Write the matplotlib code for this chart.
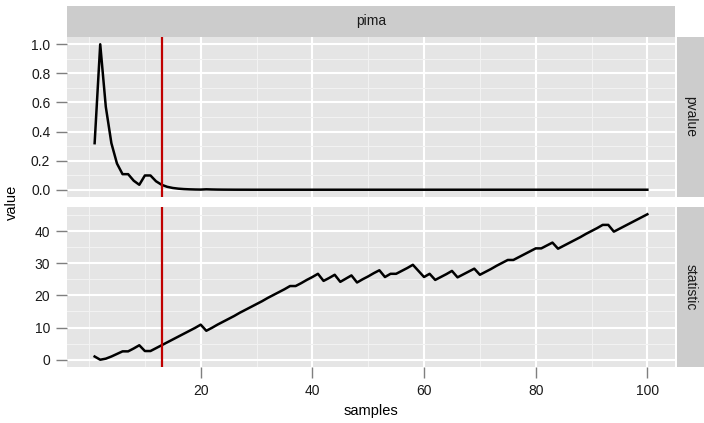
import matplotlib
matplotlib.use("Agg")
import matplotlib.pyplot as plt
from matplotlib.ticker import MultipleLocator

plt.rcParams['font.family'] = ['Liberation Sans', 'DejaVu Sans']

samples = list(range(1, 101))

pvalue = [0.32, 1.00, 0.57, 0.32, 0.18, 0.107, 0.107, 0.062, 0.034, 0.098,
          0.098, 0.058, 0.034, 0.020, 0.012, 0.0073, 0.0044, 0.0027, 0.0016, 0.0010,
          0.0028, 0.0017, 0.0010, 0.0006, 0.0004, 0.0002, 0.0001, 0.0001, 0.0, 0.0,
          0.0, 0.0, 0.0, 0.0, 0.0, 0.0, 0.0, 0.0, 0.0, 0.0,
          0.0, 0.0, 0.0, 0.0, 0.0, 0.0, 0.0, 0.0, 0.0, 0.0,
          0.0, 0.0, 0.0, 0.0, 0.0, 0.0, 0.0, 0.0, 0.0, 0.0,
          0.0, 0.0, 0.0, 0.0, 0.0, 0.0, 0.0, 0.0, 0.0, 0.0,
          0.0, 0.0, 0.0, 0.0, 0.0, 0.0, 0.0, 0.0, 0.0, 0.0,
          0.0, 0.0, 0.0, 0.0, 0.0, 0.0, 0.0, 0.0, 0.0, 0.0,
          0.0, 0.0, 0.0, 0.0, 0.0, 0.0, 0.0, 0.0, 0.0, 0.0]

statistic = [1.0, 0.0, 0.33, 1.0, 1.8, 2.6, 2.6, 3.5, 4.5, 2.7,
             2.7, 3.6, 4.5, 5.4, 6.3, 7.2, 8.1, 9.0, 9.9, 10.9,
             9.0, 9.9, 10.9, 11.8, 12.7, 13.6, 14.6, 15.5, 16.4, 17.3,
             18.2, 19.2, 20.1, 21.0, 21.9, 22.9, 22.9, 23.8, 24.8, 25.7,
             26.7, 24.5, 25.4, 26.4, 24.2, 25.2, 26.2, 24.0, 25.0, 25.9,
             26.9, 27.8, 25.7, 26.7, 26.7, 27.6, 28.5, 29.5, 27.6, 25.7,
             26.7, 24.8, 25.7, 26.6, 27.6, 25.6, 26.5, 27.4, 28.3, 26.4,
             27.3, 28.2, 29.2, 30.1, 31.0, 31.0, 31.9, 32.8, 33.7, 34.6,
             34.6, 35.5, 36.4, 34.5, 35.4, 36.3, 37.2, 38.1, 39.1, 40.0,
             40.9, 41.9, 41.9, 39.8, 40.7, 41.6, 42.5, 43.4, 44.3, 45.2]

cutoff = 13
facet_label = "pima"
row_labels = ["pvalue", "statistic"]
x_ticks = [20, 40, 60, 80, 100]
p_ticks = [0.0, 0.2, 0.4, 0.6, 0.8, 1.0]
s_ticks = [0, 10, 20, 30, 40]

W, H = 704, 423
fig = plt.figure(figsize=(W / 100, H / 100), dpi=100)

def box(l, t, r, b):
    return [l / W, 1 - b / H, (r - l) / W, (b - t) / H]

PL, PR = 67, 675
panels = [(37, 197), (207, 367)]

PANEL_BG = '#E5E5E5'
STRIP_BG = '#CCCCCC'
TXT = '#1A1A1A'
TICK = '#7F7F7F'

xlim = (1 - 0.05 * 99, 100 + 0.05 * 99)

axes = []
for i, (t, b) in enumerate(panels):
    ax = fig.add_axes(box(PL, t, PR, b))
    ax.set_facecolor(PANEL_BG)
    for s in ax.spines.values():
        s.set_visible(False)
    ax.set_xlim(*xlim)
    ax.set_xticks(x_ticks)
    ax.set_xticks([0, 10, 30, 50, 70, 90], minor=True)
    ax.grid(which='major', color='white', linewidth=1.5)
    ax.grid(which='minor', color='#F2F2F2', linewidth=0.8)
    ax.set_axisbelow(True)
    ax.tick_params(which='major', length=8, width=1.0, color=TICK,
                   labelsize=10, labelcolor=TXT, pad=4)
    ax.tick_params(which='minor', length=0)
    axes.append(ax)

ax1, ax2 = axes

ax1.plot(samples, pvalue, color='black', linewidth=1.8, solid_joinstyle='round')
ax1.axvline(cutoff, color='#C00000', linewidth=1.6)
ax1.set_ylim(-0.05, 1.05)
ax1.set_yticks(p_ticks)
ax1.set_yticklabels([f"{v:.1f}" for v in p_ticks])
ax1.set_yticks([0.1, 0.3, 0.5, 0.7, 0.9], minor=True)
ax1.tick_params(axis='x', which='both', length=0, labelbottom=False)

smax = max(statistic)
ax2.plot(samples, statistic, color='black', linewidth=1.8, solid_joinstyle='round')
ax2.axvline(cutoff, color='#C00000', linewidth=1.6)
ax2.set_ylim(-0.05 * smax, smax * 1.05)
ax2.set_yticks(s_ticks)
ax2.set_yticks([5, 15, 25, 35, 45], minor=True)
ax2.set_xticklabels([str(v) for v in x_ticks])

# top strip
st = fig.add_axes(box(PL, 6, PR, 37))
st.set_facecolor(STRIP_BG)
st.set_xticks([]); st.set_yticks([])
for s in st.spines.values():
    s.set_visible(False)
st.text(0.5, 0.5, facet_label, ha='center', va='center', fontsize=10, color=TXT,
        transform=st.transAxes)

# right strips
for (t, b), lab in zip(panels, row_labels):
    rs = fig.add_axes(box(677, t, 704, b))
    rs.set_facecolor(STRIP_BG)
    rs.set_xticks([]); rs.set_yticks([])
    for s in rs.spines.values():
        s.set_visible(False)
    rs.text(0.5, 0.5, lab, ha='center', va='center', rotation=-90, fontsize=10,
            color=TXT, transform=rs.transAxes)

fig.text(371 / W, 1 - 411 / H, "samples", ha='center', va='center', fontsize=10.5, color='black')
fig.text(12 / W, 1 - 202 / H, "value", ha='center', va='center', rotation=90, fontsize=10.5, color='black')

fig.savefig("out.png", dpi=100, facecolor='white')
